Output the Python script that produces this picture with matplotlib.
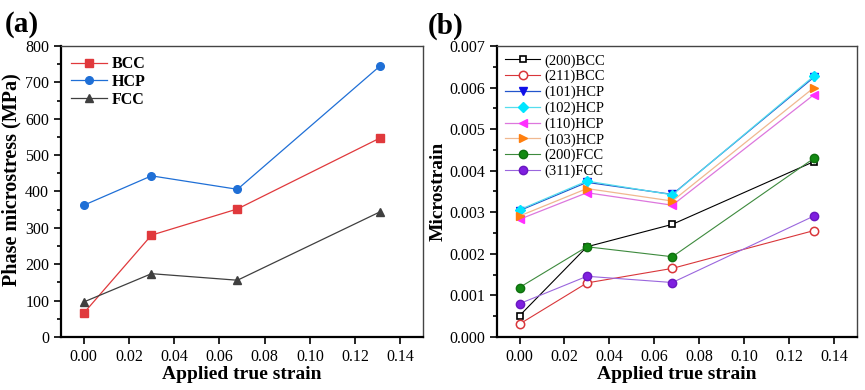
import matplotlib
matplotlib.use("Agg")
from matplotlib import pyplot as plt
from matplotlib.ticker import MultipleLocator, AutoMinorLocator

plt.rcParams['font.family'] = ['Liberation Serif', 'DejaVu Serif']

strain = [0.0, 0.03, 0.068, 0.131]

# panel (a): phase microstress, MPa
bcc = [65, 280, 352, 547]
hcp = [362, 443, 406, 745]
fcc = [96, 174, 156, 344]

# panel (b): microstrain
b200 = [0.00051, 0.00217, 0.00271, 0.00422]
b211 = [0.00031, 0.00130, 0.00165, 0.00256]
h101 = [0.00304, 0.00372, 0.00343, 0.00625]
h102 = [0.00306, 0.00375, 0.00342, 0.00628]
h110 = [0.00283, 0.00347, 0.00317, 0.00583]
h103 = [0.00291, 0.00357, 0.00327, 0.00600]
f200 = [0.00119, 0.00217, 0.00193, 0.00430]
f311 = [0.00080, 0.00146, 0.00131, 0.00291]

fig = plt.figure(figsize=(8.65, 3.9), dpi=100)
ax1 = fig.add_axes([0.0705, 0.136, 0.4185, 0.746])
ax2 = fig.add_axes([0.5746, 0.136, 0.4158, 0.746])


def style(ax):
    for s in ['left', 'bottom']:
        ax.spines[s].set_linewidth(1.6)
        ax.spines[s].set_color('black')
    for s in ['top', 'right']:
        ax.spines[s].set_linewidth(1.0)
        ax.spines[s].set_color('#444444')
    ax.set_xlim(-0.01, 0.15)
    ax.xaxis.set_major_locator(MultipleLocator(0.02))
    ax.yaxis.set_minor_locator(AutoMinorLocator(2))
    ax.tick_params(which='both', direction='out', top=False, right=False, labelsize=11.5, width=1.2)
    ax.tick_params(which='major', length=5)
    ax.tick_params(which='minor', length=3)
    ax.xaxis.set_major_formatter(plt.FuncFormatter(lambda v, p: f"{v:.2f}"))
    ax.set_xlabel("Applied true strain", fontsize=14, fontweight='bold', labelpad=1)


# (a)
ax1.plot(strain, bcc, '-s', color='#e0393c', lw=0.9, ms=5.5, label='BCC')
ax1.plot(strain, hcp, '-o', color='#1f6fd6', lw=0.9, ms=5.5, label='HCP')
ax1.plot(strain, fcc, '-^', color='#3f3f3f', lw=0.9, ms=6, label='FCC')
style(ax1)
ax1.set_ylim(0, 800)
ax1.yaxis.set_major_locator(MultipleLocator(100))
ax1.set_ylabel("Phase microstress (MPa)", fontsize=14.5, fontweight='bold')
ax1.yaxis.set_label_coords(-0.11, 0.54)
ax1.legend(loc='upper left', frameon=False, prop={'weight': 'bold', 'size': 11.5},
           handlelength=2.2, borderaxespad=0.25, labelspacing=0.1, handletextpad=0.3)

# (b)
ax2.plot(strain, b200, '-s', color='black', mfc='white', mec='black', lw=0.8, ms=5, mew=1.2, label='(200)BCC')
ax2.plot(strain, b211, '-o', color='#d9363a', mfc='white', mec='#d9363a', lw=0.8, ms=6, mew=1.1, label='(211)BCC')
ax2.plot(strain, h101, '-v', color='#2255cc', mfc='#1010e8', mec='#1010e8', lw=0.9, ms=6, label='(101)HCP')
ax2.plot(strain, h102, '-D', color='#55ddee', mfc='#00e5ff', mec='#00e5ff', lw=0.9, ms=5, label='(102)HCP')
ax2.plot(strain, h110, '-<', color='#dd77dd', mfc='#ff2fff', mec='#ff2fff', lw=0.9, ms=6, label='(110)HCP')
ax2.plot(strain, h103, '->', color='#f0b890', mfc='#ff7f0e', mec='#ff7f0e', lw=0.9, ms=6, label='(103)HCP')
ax2.plot(strain, f200, '-o', color='#3d8a3d', mfc='#138a13', mec='#0f6f0f', lw=0.8, ms=6, label='(200)FCC')
ax2.plot(strain, f311, '-o', color='#9a66dd', mfc='#7f1fe0', mec='#6a18c0', lw=0.8, ms=6, label='(311)FCC')
style(ax2)
ax2.set_ylim(0, 0.007)
ax2.yaxis.set_major_locator(MultipleLocator(0.001))
ax2.yaxis.set_major_formatter(plt.FuncFormatter(lambda v, p: f"{v:.3f}"))
ax2.set_ylabel("Microstrain", fontsize=14, fontweight='bold', labelpad=2)
ax2.legend(loc='upper left', frameon=False, prop={'size': 10.5},
           handlelength=2.4, borderaxespad=0.15, labelspacing=0.16, handletextpad=0.3)

fig.text(0.006, 0.972, "(a)", fontsize=21, fontweight='bold', va='top', ha='left')
fig.text(0.495, 0.968, "(b)", fontsize=21, fontweight='bold', va='top', ha='left')

fig.savefig("out.png", dpi=100)
